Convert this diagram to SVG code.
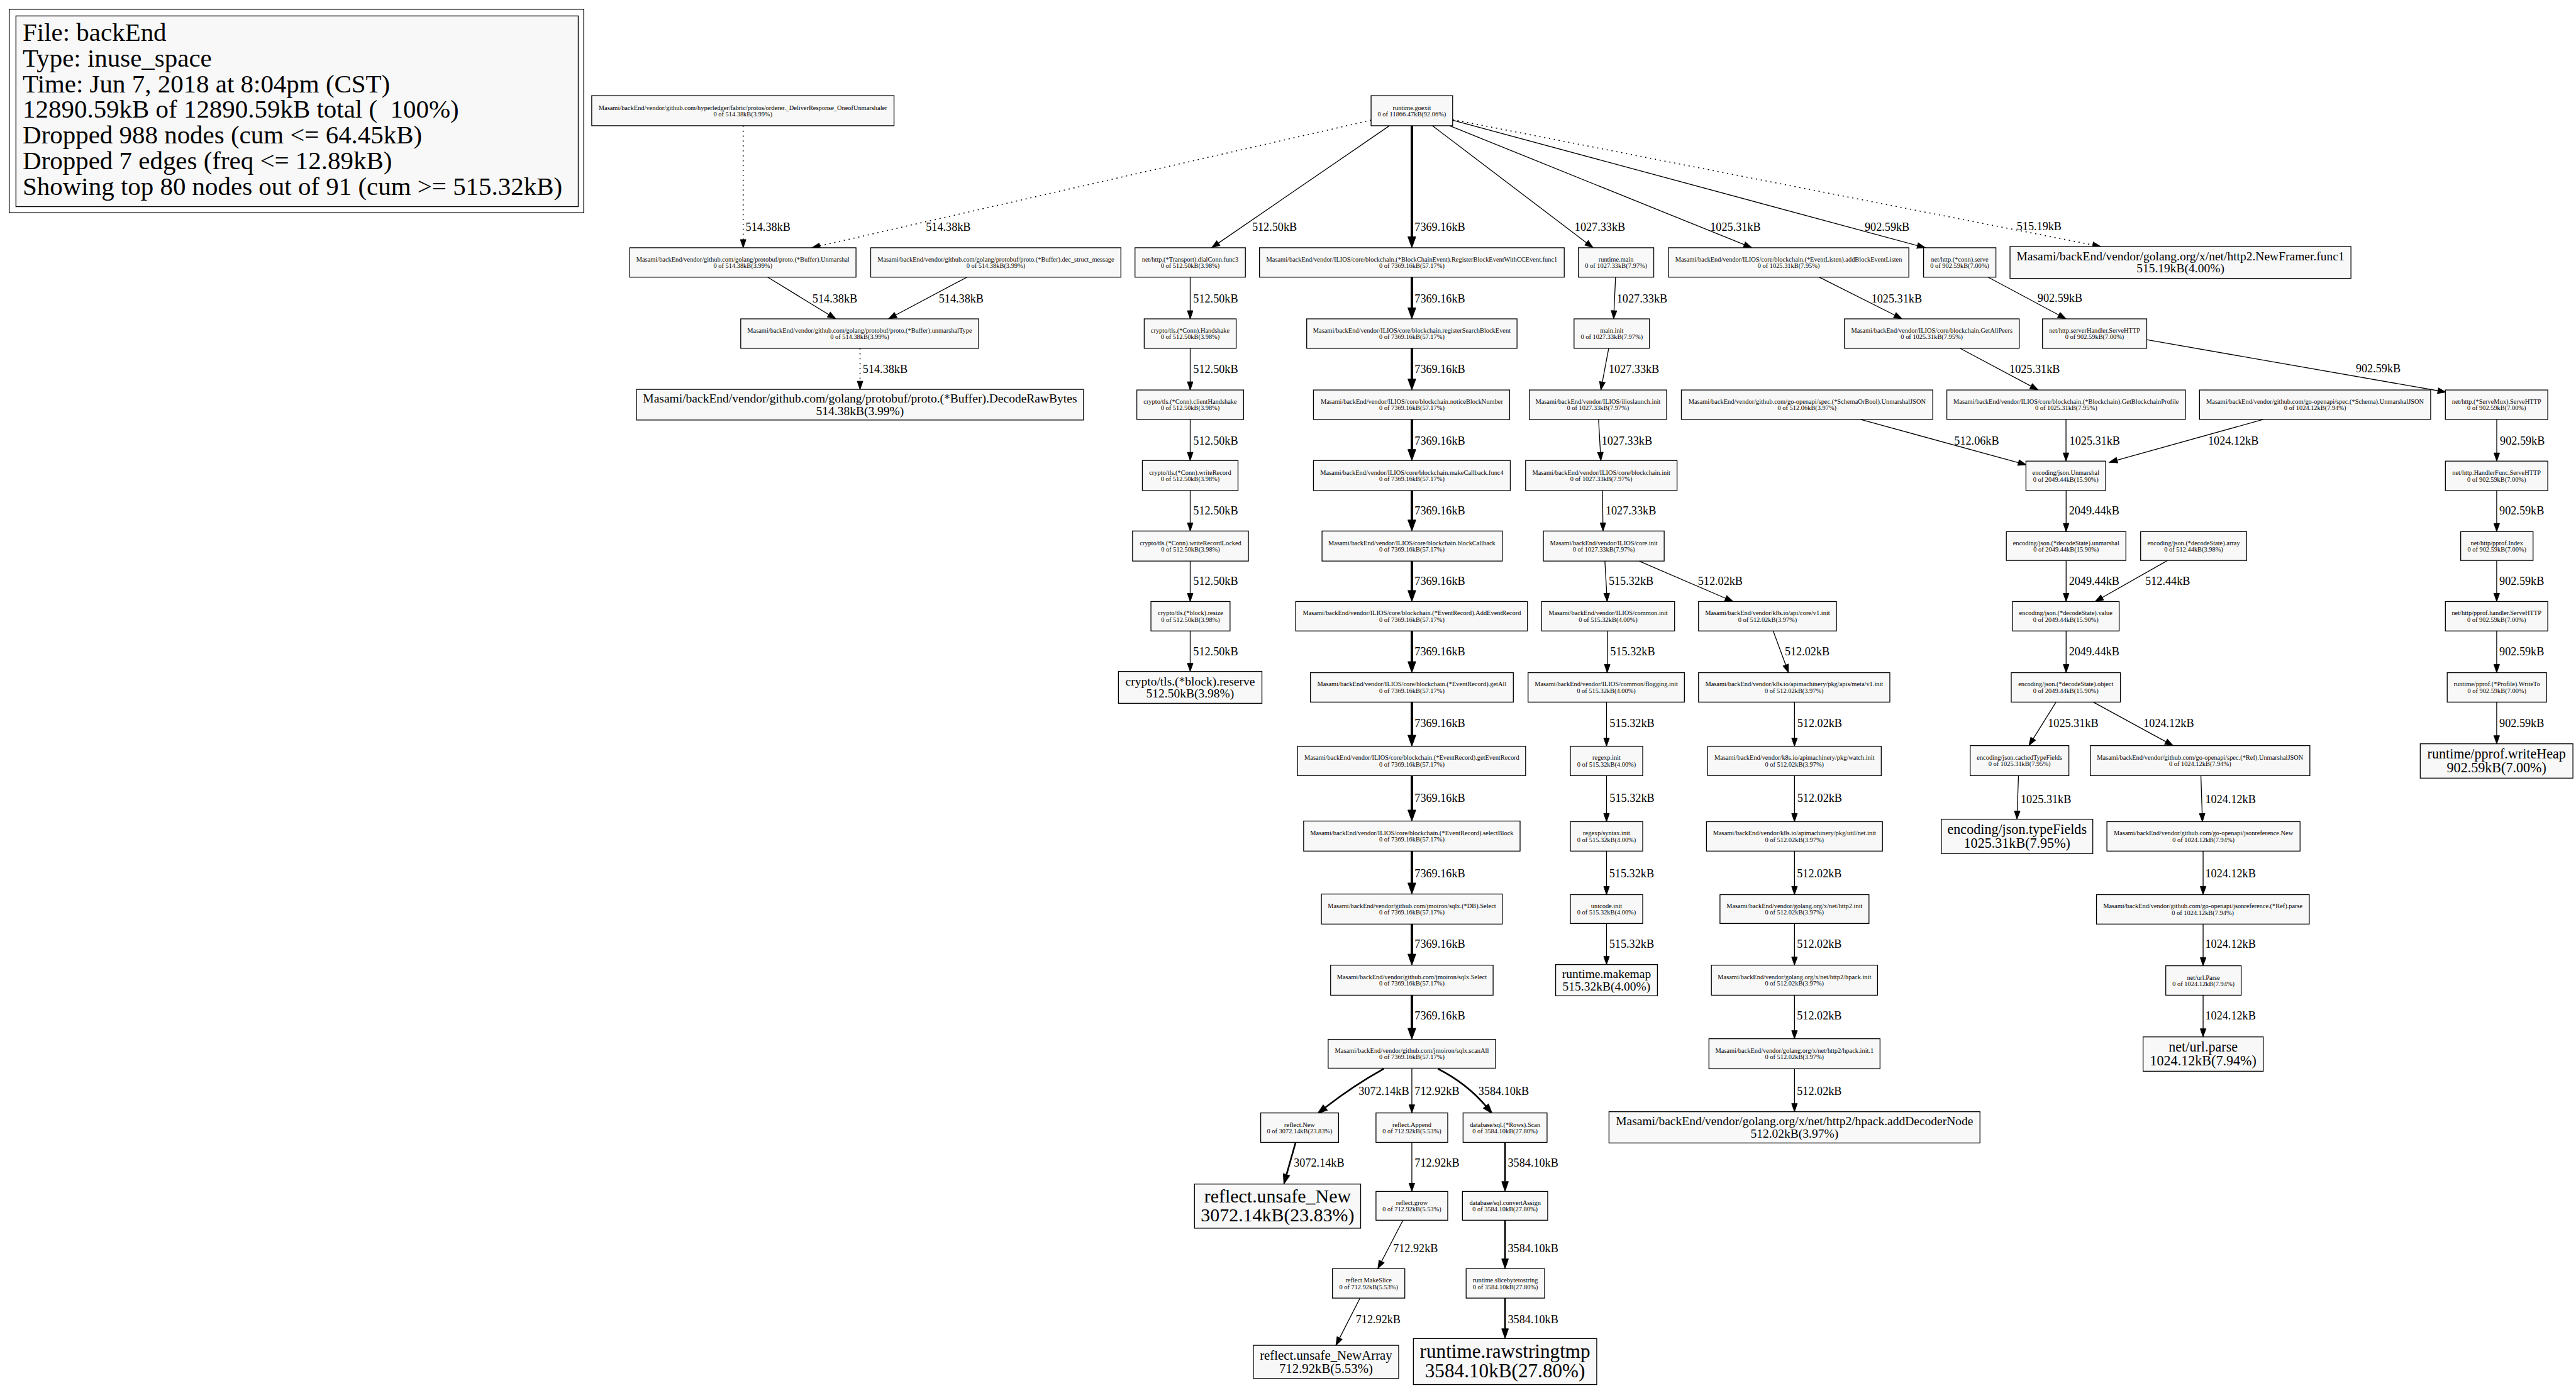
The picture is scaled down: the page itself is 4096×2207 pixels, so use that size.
<svg xmlns="http://www.w3.org/2000/svg" width="4096" height="2207" viewBox="0 0 4096 2207">
<style>
text{font-family:"Liberation Serif","Times New Roman",serif}
.n rect{fill:#f8f8f8;stroke:#000;stroke-width:1.33}
.n text{font-size:10.67px;text-anchor:middle}
.n.f20 text{font-size:20px}
.n.f21 text{font-size:21.33px}
.n.f22 text{font-size:22.67px}
.n.f30 text{font-size:30.67px}
.n.f32 text{font-size:32px}
.c path{fill:none;stroke:#000;stroke-width:1.33}
.c path.t{stroke-width:4}
.c path.m{stroke-width:2.67}
.c path.d{stroke-dasharray:2 6;stroke-width:1.6}
.c text{font-size:18.67px}
.lg text{font-size:42px;white-space:pre}
</style>
<defs>
<marker id="a" markerUnits="userSpaceOnUse" markerWidth="15" markerHeight="11" refX="13.3" refY="4.65" orient="auto" overflow="visible"><path d="M0,0 L13.3,4.65 L0,9.3 z" fill="#000" stroke="#000" stroke-width="1"/></marker>
<marker id="am" markerUnits="userSpaceOnUse" markerWidth="17" markerHeight="12" refX="0" refY="5.5" orient="auto" overflow="visible"><path d="M0,0 L16,5.5 L0,11 z" fill="#000" stroke="#000" stroke-width="1"/></marker>
<marker id="at" markerUnits="userSpaceOnUse" markerWidth="19" markerHeight="14" refX="0" refY="6.5" orient="auto" overflow="visible"><path d="M0,0 L18,6.5 L0,13 z" fill="#000" stroke="#000" stroke-width="1"/></marker>
</defs>
<rect width="4096" height="2207" fill="#fff"/>
<g transform="scale(0.975)">
<g id="legend" class="lg">
<rect x="15" y="15" width="937" height="332" fill="#fff" stroke="#000" stroke-width="1.33"/>
<rect x="26" y="26" width="917" height="311" fill="#f8f8f8" stroke="#000" stroke-width="1.33"/>
<text x="37" y="67">File: backEnd</text>
<text x="37" y="108.75">Type: inuse_space</text>
<text x="37" y="150.5">Time: Jun 7, 2018 at 8:04pm (CST)</text>
<text x="37" y="192.25" xml:space="preserve">12890.59kB of 12890.59kB total (  100%)</text>
<text x="37" y="234">Dropped 988 nodes (cum &lt;= 64.45kB)</text>
<text x="37" y="275.75">Dropped 7 edges (freq &lt;= 12.89kB)</text>
<text x="37" y="317.5">Showing top 80 nodes out of 91 (cum &gt;= 515.32kB)</text>
</g>
<g id="connectors" class="c">
<path class="d" d="M1212,205 L1212,404" marker-end="url(#a)"/>
<path class="d" d="M2236,196 L1324,404" marker-end="url(#a)"/>
<path d="M1252,452 L1363,520" marker-end="url(#a)"/>
<path d="M1577,452 L1449,520" marker-end="url(#a)"/>
<path class="d" d="M1402.6,568 L1402.6,635" marker-end="url(#a)"/>
<path d="M2266,205 L1976,404" marker-end="url(#a)"/>
<path class="t" d="M2302.5,205 L2302.5,386" marker-end="url(#at)"/>
<path d="M2336,205 L2598,404" marker-end="url(#a)"/>
<path d="M2364,205 L2857,404" marker-end="url(#a)"/>
<path d="M2369,196 L3140,404" marker-end="url(#a)"/>
<path class="d" d="M2369,195 L3426,402" marker-end="url(#a)"/>
<path d="M1941,452 L1941,520" marker-end="url(#a)"/>
<path d="M1941,568 L1941,636" marker-end="url(#a)"/>
<path d="M1941,684 L1941,751" marker-end="url(#a)"/>
<path d="M1941,800 L1941,866" marker-end="url(#a)"/>
<path d="M1941,915 L1941,981" marker-end="url(#a)"/>
<path d="M1941,1029 L1941,1095" marker-end="url(#a)"/>
<path class="t" d="M2302.5,452 L2302.5,502" marker-end="url(#at)"/>
<path class="t" d="M2302.5,568 L2302.5,618" marker-end="url(#at)"/>
<path class="t" d="M2302.5,684 L2302.5,733" marker-end="url(#at)"/>
<path class="t" d="M2302.5,800 L2302.5,848" marker-end="url(#at)"/>
<path class="t" d="M2302.5,915 L2302.5,963" marker-end="url(#at)"/>
<path class="t" d="M2302.5,1029 L2302.5,1079" marker-end="url(#at)"/>
<path class="t" d="M2302.5,1145 L2302.5,1199" marker-end="url(#at)"/>
<path class="t" d="M2302.5,1265 L2302.5,1321" marker-end="url(#at)"/>
<path class="t" d="M2302.5,1388 L2302.5,1440" marker-end="url(#at)"/>
<path class="t" d="M2302.5,1507 L2302.5,1556" marker-end="url(#at)"/>
<path class="t" d="M2302.5,1623 L2302.5,1677" marker-end="url(#at)"/>
<path class="m" d="M2256.7,1743 Q2208,1770 2161.3,1806.2" marker-end="url(#am)"/>
<path d="M2302.5,1743 L2302.5,1815" marker-end="url(#a)"/>
<path class="m" d="M2345,1743 Q2392,1767 2423.2,1803.8" marker-end="url(#am)"/>
<path class="m" d="M2113,1863 L2098.1,1915.6" marker-end="url(#am)"/>
<path d="M2302.5,1863 L2302.5,1943" marker-end="url(#a)"/>
<path class="m" d="M2454.5,1863 L2454.5,1927" marker-end="url(#am)"/>
<path d="M2288,1990 L2247,2069" marker-end="url(#a)"/>
<path class="m" d="M2454.5,1990 L2454.5,2053" marker-end="url(#am)"/>
<path d="M2218,2117 L2178.6,2194" marker-end="url(#a)"/>
<path class="m" d="M2454.5,2117 L2454.5,2167" marker-end="url(#am)"/>
<path d="M2634.7,452 L2631.6,520" marker-end="url(#a)"/>
<path d="M2623.5,568 L2610.7,636" marker-end="url(#a)"/>
<path d="M2607,684 L2610.7,751" marker-end="url(#a)"/>
<path d="M2613.3,800 L2614.3,866" marker-end="url(#a)"/>
<path d="M2617.3,915 L2621,981" marker-end="url(#a)"/>
<path d="M2673,915 L2826.5,981" marker-end="url(#a)"/>
<path d="M2622,1029 L2621,1097" marker-end="url(#a)"/>
<path d="M2891.8,1029 L2916.8,1097" marker-end="url(#a)"/>
<path d="M2620,1145 L2620,1217" marker-end="url(#a)"/>
<path d="M2926.5,1145 L2926.5,1217" marker-end="url(#a)"/>
<path d="M2620,1265 L2620,1340" marker-end="url(#a)"/>
<path d="M2926.5,1265 L2926.5,1340" marker-end="url(#a)"/>
<path d="M2620,1388 L2620,1459" marker-end="url(#a)"/>
<path d="M2620,1506 L2620,1573" marker-end="url(#a)"/>
<path d="M2926.5,1388 L2926.5,1459" marker-end="url(#a)"/>
<path d="M2926.5,1506 L2926.5,1574" marker-end="url(#a)"/>
<path d="M2926.5,1623 L2926.5,1694" marker-end="url(#a)"/>
<path d="M2926.5,1743 L2926.5,1813" marker-end="url(#a)"/>
<path d="M2966.8,452 L3102,520" marker-end="url(#a)"/>
<path d="M3196.4,568 L3324,636" marker-end="url(#a)"/>
<path d="M3242.3,452 L3369.3,520" marker-end="url(#a)"/>
<path d="M3500.8,554 L3989,639.5" marker-end="url(#a)"/>
<path d="M3034,684 L3304.6,758" marker-end="url(#a)"/>
<path d="M3369.3,684 L3369.3,752" marker-end="url(#a)"/>
<path d="M3691,684 L3439.8,754" marker-end="url(#a)"/>
<path d="M4071.8,684 L4071.8,752" marker-end="url(#a)"/>
<path d="M3369.5,800 L3369.5,867" marker-end="url(#a)"/>
<path d="M3369.5,914 L3369.5,981" marker-end="url(#a)"/>
<path d="M3535,914 L3416.8,981" marker-end="url(#a)"/>
<path d="M3369.5,1029 L3369.5,1097" marker-end="url(#a)"/>
<path d="M3353,1145 L3308.8,1216" marker-end="url(#a)"/>
<path d="M3413.7,1145 L3544,1216" marker-end="url(#a)"/>
<path d="M3291.8,1265 L3289.3,1336" marker-end="url(#a)"/>
<path d="M3589.3,1265 L3591.8,1340" marker-end="url(#a)"/>
<path d="M3592.9,1388 L3592.9,1459" marker-end="url(#a)"/>
<path d="M3592.9,1507 L3592.9,1575" marker-end="url(#a)"/>
<path d="M3592.9,1623 L3592.9,1691" marker-end="url(#a)"/>
<path d="M4071.7,800 L4071.7,867" marker-end="url(#a)"/>
<path d="M4071.7,914 L4071.7,981" marker-end="url(#a)"/>
<path d="M4071.7,1029 L4071.7,1097" marker-end="url(#a)"/>
<path d="M4071.7,1145 L4071.7,1213" marker-end="url(#a)"/>
<text x="1216" y="376">514.38kB</text>
<text x="1510" y="376">514.38kB</text>
<text x="1325" y="493.5">514.38kB</text>
<text x="1531" y="493.5">514.38kB</text>
<text x="1407" y="608">514.38kB</text>
<text x="2042" y="376">512.50kB</text>
<text x="2307" y="376">7369.16kB</text>
<text x="2568" y="376">1027.33kB</text>
<text x="2789" y="376">1025.31kB</text>
<text x="3041" y="376">902.59kB</text>
<text x="3289" y="375">515.19kB</text>
<text x="1946" y="493.5">512.50kB</text>
<text x="1946" y="608">512.50kB</text>
<text x="1946" y="725">512.50kB</text>
<text x="1946" y="839">512.50kB</text>
<text x="1946" y="954">512.50kB</text>
<text x="1946" y="1068.6">512.50kB</text>
<text x="2307" y="493.5">7369.16kB</text>
<text x="2307" y="608">7369.16kB</text>
<text x="2307" y="725">7369.16kB</text>
<text x="2307" y="839">7369.16kB</text>
<text x="2307" y="954">7369.16kB</text>
<text x="2307" y="1068.6">7369.16kB</text>
<text x="2307" y="1185.6">7369.16kB</text>
<text x="2307" y="1308">7369.16kB</text>
<text x="2307" y="1431">7369.16kB</text>
<text x="2307" y="1546">7369.16kB</text>
<text x="2307" y="1663">7369.16kB</text>
<text x="2215.6" y="1786">3072.14kB</text>
<text x="2307" y="1786">712.92kB</text>
<text x="2411" y="1786">3584.10kB</text>
<text x="2110" y="1903">3072.14kB</text>
<text x="2307" y="1903">712.92kB</text>
<text x="2459" y="1903">3584.10kB</text>
<text x="2272" y="2042">712.92kB</text>
<text x="2459" y="2042">3584.10kB</text>
<text x="2211" y="2157.7">712.92kB</text>
<text x="2459" y="2157.7">3584.10kB</text>
<text x="2636.7" y="493.5">1027.33kB</text>
<text x="2623.5" y="608">1027.33kB</text>
<text x="2612" y="725">1027.33kB</text>
<text x="2618.4" y="839">1027.33kB</text>
<text x="2623.5" y="954">515.32kB</text>
<text x="2769" y="954">512.02kB</text>
<text x="2626" y="1068.6">515.32kB</text>
<text x="2910.7" y="1068.6">512.02kB</text>
<text x="2625" y="1185.6">515.32kB</text>
<text x="2931" y="1185.6">512.02kB</text>
<text x="2625" y="1308">515.32kB</text>
<text x="2931" y="1308">512.02kB</text>
<text x="2624.4" y="1431">515.32kB</text>
<text x="2624.4" y="1546">515.32kB</text>
<text x="2930.5" y="1431">512.02kB</text>
<text x="2930.5" y="1546">512.02kB</text>
<text x="2930.5" y="1663">512.02kB</text>
<text x="2930.5" y="1785.6">512.02kB</text>
<text x="3052" y="493.5">1025.31kB</text>
<text x="3277" y="608">1025.31kB</text>
<text x="3322.9" y="492">902.59kB</text>
<text x="3842" y="607">902.59kB</text>
<text x="3187" y="725">512.06kB</text>
<text x="3375" y="725">1025.31kB</text>
<text x="3601" y="725">1024.12kB</text>
<text x="4077" y="725">902.59kB</text>
<text x="3374" y="839">2049.44kB</text>
<text x="3374" y="954">2049.44kB</text>
<text x="3498.6" y="954">512.44kB</text>
<text x="3374" y="1069">2049.44kB</text>
<text x="3339.7" y="1186">1025.31kB</text>
<text x="3495.6" y="1186">1024.12kB</text>
<text x="3295.4" y="1309.4">1025.31kB</text>
<text x="3596.4" y="1309.4">1024.12kB</text>
<text x="3596.4" y="1431">1024.12kB</text>
<text x="3596.4" y="1545.7">1024.12kB</text>
<text x="3596.4" y="1663">1024.12kB</text>
<text x="4076" y="839">902.59kB</text>
<text x="4076" y="954">902.59kB</text>
<text x="4076" y="1069">902.59kB</text>
<text x="4076" y="1186">902.59kB</text>
</g>
<g id="n1" class="n"><rect x="965" y="156" width="493" height="49"/><text x="1211.5" y="179">Masami/backEnd/vendor/github.com/hyperledger/fabric/protos/orderer._DeliverResponse_OneofUnmarshaler</text><text x="1211.5" y="189.7">0 of 514.38kB(3.99%)</text></g>
<g id="n2" class="n"><rect x="2236" y="156" width="133" height="49"/><text x="2302.5" y="179">runtime.goexit</text><text x="2302.5" y="189.7">0 of 11866.47kB(92.06%)</text></g>
<g id="n3" class="n"><rect x="1027" y="404" width="369" height="48"/><text x="1211.5" y="426.5">Masami/backEnd/vendor/github.com/golang/protobuf/proto.(*Buffer).Unmarshal</text><text x="1211.5" y="437.2">0 of 514.38kB(3.99%)</text></g>
<g id="n4" class="n"><rect x="1420" y="404" width="408" height="48"/><text x="1624" y="426.5">Masami/backEnd/vendor/github.com/golang/protobuf/proto.(*Buffer).dec_struct_message</text><text x="1624" y="437.2">0 of 514.38kB(3.99%)</text></g>
<g id="n5" class="n"><rect x="1208" y="520" width="388" height="48"/><text x="1402" y="542.5">Masami/backEnd/vendor/github.com/golang/protobuf/proto.(*Buffer).unmarshalType</text><text x="1402" y="553.2">0 of 514.38kB(3.99%)</text></g>
<g id="n6" class="n f20"><rect x="1038" y="635" width="729" height="50"/><text x="1402.5" y="656.5">Masami/backEnd/vendor/github.com/golang/protobuf/proto.(*Buffer).DecodeRawBytes</text><text x="1402.5" y="676.5">514.38kB(3.99%)</text></g>
<g id="n7" class="n"><rect x="1851" y="404" width="180" height="48"/><text x="1941" y="426.5">net/http.(*Transport).dialConn.func3</text><text x="1941" y="437.2">0 of 512.50kB(3.98%)</text></g>
<g id="n8" class="n"><rect x="2054" y="404" width="497" height="48"/><text x="2302.5" y="426.5">Masami/backEnd/vendor/ILIOS/core/blockchain.(*BlockChainEvent).RegisterBlockEventWithCCEvent.func1</text><text x="2302.5" y="437.2">0 of 7369.16kB(57.17%)</text></g>
<g id="n9" class="n"><rect x="2574" y="404" width="123" height="48"/><text x="2635.5" y="426.5">runtime.main</text><text x="2635.5" y="437.2">0 of 1027.33kB(7.97%)</text></g>
<g id="n10" class="n"><rect x="2721" y="404" width="392" height="48"/><text x="2917" y="426.5">Masami/backEnd/vendor/ILIOS/core/blockchain.(*EventListen).addBlockEventListen</text><text x="2917" y="437.2">0 of 1025.31kB(7.95%)</text></g>
<g id="n11" class="n"><rect x="3137" y="404" width="118" height="48"/><text x="3196" y="426.5">net/http.(*conn).serve</text><text x="3196" y="437.2">0 of 902.59kB(7.00%)</text></g>
<g id="n12" class="n f20"><rect x="3278" y="402" width="556" height="52"/><text x="3556" y="424.5">Masami/backEnd/vendor/golang.org/x/net/http2.NewFramer.func1</text><text x="3556" y="444.5">515.19kB(4.00%)</text></g>
<g id="n13" class="n"><rect x="1866" y="520" width="150" height="48"/><text x="1941" y="542.5">crypto/tls.(*Conn).Handshake</text><text x="1941" y="553.2">0 of 512.50kB(3.98%)</text></g>
<g id="n14" class="n"><rect x="1854" y="636" width="174" height="48"/><text x="1941" y="658.5">crypto/tls.(*Conn).clientHandshake</text><text x="1941" y="669.2">0 of 512.50kB(3.98%)</text></g>
<g id="n15" class="n"><rect x="1863" y="751" width="156" height="49"/><text x="1941" y="774">crypto/tls.(*Conn).writeRecord</text><text x="1941" y="784.7">0 of 512.50kB(3.98%)</text></g>
<g id="n16" class="n"><rect x="1847" y="866" width="189" height="49"/><text x="1941.5" y="889">crypto/tls.(*Conn).writeRecordLocked</text><text x="1941.5" y="899.7">0 of 512.50kB(3.98%)</text></g>
<g id="n17" class="n"><rect x="1877" y="981" width="129" height="48"/><text x="1941.5" y="1003.5">crypto/tls.(*block).resize</text><text x="1941.5" y="1014.2">0 of 512.50kB(3.98%)</text></g>
<g id="n18" class="n f20"><rect x="1824" y="1095" width="234" height="52"/><text x="1941" y="1117.5">crypto/tls.(*block).reserve</text><text x="1941" y="1137.5">512.50kB(3.98%)</text></g>
<g id="n19" class="n"><rect x="2131" y="520" width="343" height="48"/><text x="2302.5" y="542.5">Masami/backEnd/vendor/ILIOS/core/blockchain.registerSearchBlockEvent</text><text x="2302.5" y="553.2">0 of 7369.16kB(57.17%)</text></g>
<g id="n20" class="n"><rect x="2142" y="636" width="320" height="48"/><text x="2302.5" y="658.5">Masami/backEnd/vendor/ILIOS/core/blockchain.noticeBlockNumber</text><text x="2302.5" y="669.2">0 of 7369.16kB(57.17%)</text></g>
<g id="n21" class="n"><rect x="2142" y="751" width="321" height="49"/><text x="2302.5" y="774">Masami/backEnd/vendor/ILIOS/core/blockchain.makeCallback.func4</text><text x="2302.5" y="784.7">0 of 7369.16kB(57.17%)</text></g>
<g id="n22" class="n"><rect x="2156" y="866" width="294" height="49"/><text x="2302.5" y="889">Masami/backEnd/vendor/ILIOS/core/blockchain.blockCallback</text><text x="2302.5" y="899.7">0 of 7369.16kB(57.17%)</text></g>
<g id="n23" class="n"><rect x="2113" y="981" width="378" height="48"/><text x="2302.5" y="1003.5">Masami/backEnd/vendor/ILIOS/core/blockchain.(*EventRecord).AddEventRecord</text><text x="2302.5" y="1014.2">0 of 7369.16kB(57.17%)</text></g>
<g id="n24" class="n"><rect x="2137" y="1097" width="331" height="48"/><text x="2302.5" y="1119.5">Masami/backEnd/vendor/ILIOS/core/blockchain.(*EventRecord).getAll</text><text x="2302.5" y="1130.2">0 of 7369.16kB(57.17%)</text></g>
<g id="n25" class="n"><rect x="2116" y="1217" width="372" height="48"/><text x="2302.5" y="1239.5">Masami/backEnd/vendor/ILIOS/core/blockchain.(*EventRecord).getEventRecord</text><text x="2302.5" y="1250.2">0 of 7369.16kB(57.17%)</text></g>
<g id="n26" class="n"><rect x="2126" y="1339" width="353" height="49"/><text x="2302.5" y="1362">Masami/backEnd/vendor/ILIOS/core/blockchain.(*EventRecord).selectBlock</text><text x="2302.5" y="1372.7">0 of 7369.16kB(57.17%)</text></g>
<g id="n27" class="n"><rect x="2155" y="1458" width="295" height="49"/><text x="2302.5" y="1481">Masami/backEnd/vendor/github.com/jmoiron/sqlx.(*DB).Select</text><text x="2302.5" y="1491.7">0 of 7369.16kB(57.17%)</text></g>
<g id="n28" class="n"><rect x="2170" y="1574" width="265" height="49"/><text x="2302.5" y="1597">Masami/backEnd/vendor/github.com/jmoiron/sqlx.Select</text><text x="2302.5" y="1607.7">0 of 7369.16kB(57.17%)</text></g>
<g id="n29" class="n"><rect x="2166" y="1695" width="273" height="47"/><text x="2302.5" y="1717">Masami/backEnd/vendor/github.com/jmoiron/sqlx.scanAll</text><text x="2302.5" y="1727.7">0 of 7369.16kB(57.17%)</text></g>
<g id="n30" class="n"><rect x="2056" y="1815" width="127" height="48"/><text x="2119.5" y="1837.5">reflect.New</text><text x="2119.5" y="1848.2">0 of 3072.14kB(23.83%)</text></g>
<g id="n31" class="n"><rect x="2244" y="1815" width="117" height="48"/><text x="2302.5" y="1837.5">reflect.Append</text><text x="2302.5" y="1848.2">0 of 712.92kB(5.53%)</text></g>
<g id="n32" class="n"><rect x="2386" y="1815" width="137" height="48"/><text x="2454.5" y="1837.5">database/sql.(*Rows).Scan</text><text x="2454.5" y="1848.2">0 of 3584.10kB(27.80%)</text></g>
<g id="n33" class="n f30"><rect x="1948" y="1931" width="271" height="72"/><text x="2083.5" y="1961.4">reflect.unsafe_New</text><text x="2083.5" y="1992">3072.14kB(23.83%)</text></g>
<g id="n34" class="n"><rect x="2244" y="1943" width="117" height="47"/><text x="2302.5" y="1965">reflect.grow</text><text x="2302.5" y="1975.7">0 of 712.92kB(5.53%)</text></g>
<g id="n35" class="n"><rect x="2385" y="1943" width="139" height="47"/><text x="2454.5" y="1965">database/sql.convertAssign</text><text x="2454.5" y="1975.7">0 of 3584.10kB(27.80%)</text></g>
<g id="n36" class="n"><rect x="2173" y="2069" width="118" height="48"/><text x="2232" y="2091.5">reflect.MakeSlice</text><text x="2232" y="2102.2">0 of 712.92kB(5.53%)</text></g>
<g id="n37" class="n"><rect x="2391" y="2069" width="128" height="48"/><text x="2455" y="2091.5">runtime.slicebytetostring</text><text x="2455" y="2102.2">0 of 3584.10kB(27.80%)</text></g>
<g id="n38" class="n f21"><rect x="2044" y="2194" width="237" height="54"/><text x="2162.5" y="2217.2">reflect.unsafe_NewArray</text><text x="2162.5" y="2238.6">712.92kB(5.53%)</text></g>
<g id="n39" class="n f32"><rect x="2305" y="2183" width="299" height="75"/><text x="2454.5" y="2214.6">runtime.rawstringtmp</text><text x="2454.5" y="2246.6">3584.10kB(27.80%)</text></g>
<g id="n40" class="n"><rect x="2567" y="520" width="123" height="48"/><text x="2628.5" y="542.5">main.init</text><text x="2628.5" y="553.2">0 of 1027.33kB(7.97%)</text></g>
<g id="n41" class="n"><rect x="2494" y="636" width="224" height="48"/><text x="2606" y="658.5">Masami/backEnd/vendor/ILIOS/ilioslaunch.init</text><text x="2606" y="669.2">0 of 1027.33kB(7.97%)</text></g>
<g id="n42" class="n"><rect x="3008" y="520" width="285" height="48"/><text x="3150.5" y="542.5">Masami/backEnd/vendor/ILIOS/core/blockchain.GetAllPeers</text><text x="3150.5" y="553.2">0 of 1025.31kB(7.95%)</text></g>
<g id="n43" class="n"><rect x="2742" y="636" width="410" height="48"/><text x="2947" y="658.5">Masami/backEnd/vendor/github.com/go-openapi/spec.(*SchemaOrBool).UnmarshalJSON</text><text x="2947" y="669.2">0 of 512.06kB(3.97%)</text></g>
<g id="n44" class="n"><rect x="3331" y="520" width="170" height="48"/><text x="3416" y="542.5">net/http.serverHandler.ServeHTTP</text><text x="3416" y="553.2">0 of 902.59kB(7.00%)</text></g>
<g id="n45" class="n"><rect x="3175" y="636" width="389" height="48"/><text x="3369.5" y="658.5">Masami/backEnd/vendor/ILIOS/core/blockchain.(*Blockchain).GetBlockchainProfile</text><text x="3369.5" y="669.2">0 of 1025.31kB(7.95%)</text></g>
<g id="n46" class="n"><rect x="3587" y="636" width="377" height="48"/><text x="3775.5" y="658.5">Masami/backEnd/vendor/github.com/go-openapi/spec.(*Schema).UnmarshalJSON</text><text x="3775.5" y="669.2">0 of 1024.12kB(7.94%)</text></g>
<g id="n47" class="n"><rect x="3988" y="636" width="167" height="48"/><text x="4071.5" y="658.5">net/http.(*ServeMux).ServeHTTP</text><text x="4071.5" y="669.2">0 of 902.59kB(7.00%)</text></g>
<g id="n48" class="n"><rect x="3304" y="752" width="130" height="48"/><text x="3369" y="774.5">encoding/json.Unmarshal</text><text x="3369" y="785.2">0 of 2049.44kB(15.90%)</text></g>
<g id="n49" class="n"><rect x="3272" y="867" width="195" height="47"/><text x="3369.5" y="889">encoding/json.(*decodeState).unmarshal</text><text x="3369.5" y="899.7">0 of 2049.44kB(15.90%)</text></g>
<g id="n50" class="n"><rect x="3491" y="867" width="173" height="47"/><text x="3577.5" y="889">encoding/json.(*decodeState).array</text><text x="3577.5" y="899.7">0 of 512.44kB(3.98%)</text></g>
<g id="n51" class="n"><rect x="3282" y="981" width="174" height="48"/><text x="3369" y="1003.5">encoding/json.(*decodeState).value</text><text x="3369" y="1014.2">0 of 2049.44kB(15.90%)</text></g>
<g id="n52" class="n"><rect x="3280" y="1097" width="178" height="48"/><text x="3369" y="1119.5">encoding/json.(*decodeState).object</text><text x="3369" y="1130.2">0 of 2049.44kB(15.90%)</text></g>
<g id="n53" class="n"><rect x="3213" y="1216" width="161" height="49"/><text x="3293.5" y="1239">encoding/json.cachedTypeFields</text><text x="3293.5" y="1249.7">0 of 1025.31kB(7.95%)</text></g>
<g id="n54" class="n"><rect x="3409" y="1216" width="358" height="49"/><text x="3588" y="1239">Masami/backEnd/vendor/github.com/go-openapi/spec.(*Ref).UnmarshalJSON</text><text x="3588" y="1249.7">0 of 1024.12kB(7.94%)</text></g>
<g id="n55" class="n f22"><rect x="3166" y="1336" width="247" height="56"/><text x="3289.5" y="1360">encoding/json.typeFields</text><text x="3289.5" y="1382.6">1025.31kB(7.95%)</text></g>
<g id="n56" class="n"><rect x="3436" y="1340" width="315" height="48"/><text x="3593.5" y="1362.5">Masami/backEnd/vendor/github.com/go-openapi/jsonreference.New</text><text x="3593.5" y="1373.2">0 of 1024.12kB(7.94%)</text></g>
<g id="n57" class="n"><rect x="3419" y="1459" width="347" height="48"/><text x="3592.5" y="1481.5">Masami/backEnd/vendor/github.com/go-openapi/jsonreference.(*Ref).parse</text><text x="3592.5" y="1492.2">0 of 1024.12kB(7.94%)</text></g>
<g id="n58" class="n"><rect x="3532" y="1575" width="123" height="48"/><text x="3593.5" y="1597.5">net/url.Parse</text><text x="3593.5" y="1608.2">0 of 1024.12kB(7.94%)</text></g>
<g id="n59" class="n f22"><rect x="3495" y="1691" width="196" height="56"/><text x="3593" y="1715">net/url.parse</text><text x="3593" y="1737.6">1024.12kB(7.94%)</text></g>
<g id="n60" class="n"><rect x="3988" y="752" width="167" height="48"/><text x="4071.5" y="774.5">net/http.HandlerFunc.ServeHTTP</text><text x="4071.5" y="785.2">0 of 902.59kB(7.00%)</text></g>
<g id="n61" class="n"><rect x="4013" y="867" width="118" height="47"/><text x="4072" y="889">net/http/pprof.Index</text><text x="4072" y="899.7">0 of 902.59kB(7.00%)</text></g>
<g id="n62" class="n"><rect x="3988" y="981" width="167" height="48"/><text x="4071.5" y="1003.5">net/http/pprof.handler.ServeHTTP</text><text x="4071.5" y="1014.2">0 of 902.59kB(7.00%)</text></g>
<g id="n63" class="n"><rect x="3991" y="1097" width="162" height="48"/><text x="4072" y="1119.5">runtime/pprof.(*Profile).WriteTo</text><text x="4072" y="1130.2">0 of 902.59kB(7.00%)</text></g>
<g id="n64" class="n f22"><rect x="3947" y="1213" width="249" height="56"/><text x="4071.5" y="1237">runtime/pprof.writeHeap</text><text x="4071.5" y="1259.6">902.59kB(7.00%)</text></g>
<g id="n65" class="n"><rect x="2488" y="751" width="247" height="49"/><text x="2611.5" y="774">Masami/backEnd/vendor/ILIOS/core/blockchain.init</text><text x="2611.5" y="784.7">0 of 1027.33kB(7.97%)</text></g>
<g id="n66" class="n"><rect x="2517" y="866" width="197" height="49"/><text x="2615.5" y="889">Masami/backEnd/vendor/ILIOS/core.init</text><text x="2615.5" y="899.7">0 of 1027.33kB(7.97%)</text></g>
<g id="n67" class="n"><rect x="2514" y="981" width="217" height="48"/><text x="2622.5" y="1003.5">Masami/backEnd/vendor/ILIOS/common.init</text><text x="2622.5" y="1014.2">0 of 515.32kB(4.00%)</text></g>
<g id="n68" class="n"><rect x="2770" y="981" width="225" height="48"/><text x="2882.5" y="1003.5">Masami/backEnd/vendor/k8s.io/api/core/v1.init</text><text x="2882.5" y="1014.2">0 of 512.02kB(3.97%)</text></g>
<g id="n69" class="n"><rect x="2492" y="1097" width="255" height="48"/><text x="2619.5" y="1119.5">Masami/backEnd/vendor/ILIOS/common/flogging.init</text><text x="2619.5" y="1130.2">0 of 515.32kB(4.00%)</text></g>
<g id="n70" class="n"><rect x="2770" y="1097" width="312" height="48"/><text x="2926" y="1119.5">Masami/backEnd/vendor/k8s.io/apimachinery/pkg/apis/meta/v1.init</text><text x="2926" y="1130.2">0 of 512.02kB(3.97%)</text></g>
<g id="n71" class="n"><rect x="2561" y="1217" width="118" height="48"/><text x="2620" y="1239.5">regexp.init</text><text x="2620" y="1250.2">0 of 515.32kB(4.00%)</text></g>
<g id="n72" class="n"><rect x="2785" y="1217" width="283" height="48"/><text x="2926.5" y="1239.5">Masami/backEnd/vendor/k8s.io/apimachinery/pkg/watch.init</text><text x="2926.5" y="1250.2">0 of 512.02kB(3.97%)</text></g>
<g id="n73" class="n"><rect x="2561" y="1340" width="118" height="48"/><text x="2620" y="1362.5">regexp/syntax.init</text><text x="2620" y="1373.2">0 of 515.32kB(4.00%)</text></g>
<g id="n74" class="n"><rect x="2783" y="1340" width="287" height="48"/><text x="2926.5" y="1362.5">Masami/backEnd/vendor/k8s.io/apimachinery/pkg/util/net.init</text><text x="2926.5" y="1373.2">0 of 512.02kB(3.97%)</text></g>
<g id="n75" class="n"><rect x="2561" y="1459" width="118" height="47"/><text x="2620" y="1481">unicode.init</text><text x="2620" y="1491.7">0 of 515.32kB(4.00%)</text></g>
<g id="n76" class="n"><rect x="2805" y="1459" width="243" height="47"/><text x="2926.5" y="1481">Masami/backEnd/vendor/golang.org/x/net/http2.init</text><text x="2926.5" y="1491.7">0 of 512.02kB(3.97%)</text></g>
<g id="n77" class="n f20"><rect x="2537" y="1573" width="166" height="51"/><text x="2620" y="1595">runtime.makemap</text><text x="2620" y="1615">515.32kB(4.00%)</text></g>
<g id="n78" class="n"><rect x="2791" y="1574" width="271" height="49"/><text x="2926.5" y="1597">Masami/backEnd/vendor/golang.org/x/net/http2/hpack.init</text><text x="2926.5" y="1607.7">0 of 512.02kB(3.97%)</text></g>
<g id="n79" class="n"><rect x="2787" y="1694" width="279" height="49"/><text x="2926.5" y="1717">Masami/backEnd/vendor/golang.org/x/net/http2/hpack.init.1</text><text x="2926.5" y="1727.7">0 of 512.02kB(3.97%)</text></g>
<g id="n80" class="n f20"><rect x="2624" y="1813" width="605" height="51"/><text x="2926.5" y="1835">Masami/backEnd/vendor/golang.org/x/net/http2/hpack.addDecoderNode</text><text x="2926.5" y="1855">512.02kB(3.97%)</text></g>
</g>
</svg>
